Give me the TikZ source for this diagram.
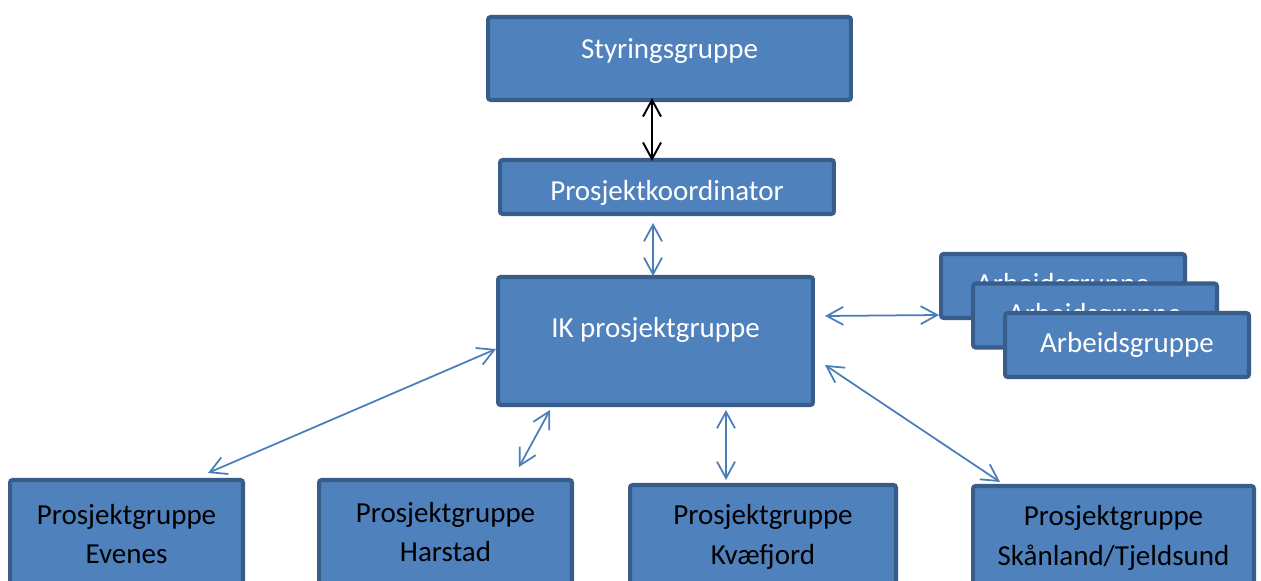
\documentclass[tikz,border=0pt]{standalone}
\usepackage{fontspec}
\setmainfont{Carlito}
\usetikzlibrary{arrows.meta}

\definecolor{boxfill}{HTML}{4F81BD}
\definecolor{boxline}{HTML}{385D8A}
\definecolor{linkblue}{HTML}{4A7EBB}

\begin{document}
\begin{tikzpicture}[
    x=0.02cm, y=-0.02cm,
    box/.style={draw=boxline, line width=2.3pt, rounded corners=1.5pt, fill=boxfill, inner sep=0pt, font=\fontsize{16.5}{22.5}\selectfont, align=center},
    topbox/.style={box, text=white},
    subbox/.style={box, text=black, minimum width=4.88cm, minimum height=1.28cm},
    txt/.style={text=white, font=\fontsize{16.5}{22.5}\selectfont, inner sep=0pt},
    arr/.style={{Straight Barb[length=3.3mm,width=3.6mm]}-{Straight Barb[length=3.3mm,width=3.6mm]}, line width=1pt, draw=linkblue},
    blk/.style={arr, draw=black, line width=1.1pt}
  ]
    \useasboundingbox (0,0) rectangle (1261,581);
    \clip (0,0) rectangle (1261,581);

    % top of the chart
    \node[topbox, minimum width=7.26cm, minimum height=1.66cm,
      label={[txt, yshift=0.15cm]center:Styringsgruppe}] (styr) at (669.5,58.5) {};
    \node[topbox, minimum width=6.68cm, minimum height=1.08cm,
      label={[txt, yshift=-0.12cm]center:Prosjektkoordinator}] (koord) at (667,187) {};
    \node[topbox, minimum width=6.3cm, minimum height=2.56cm,
      label={[txt, yshift=0.23cm]center:IK prosjektgruppe}] (ik) at (655.5,341) {};

    % stack of working groups
    \node[subbox, text=white] (arb1) at (1063,286) {Arbeidsgruppe};
    \node[subbox, text=white] (arb2) at (1095,315.5) {Arbeidsgruppe};
    \node[subbox, text=white] (arb3) at (1127,345) {Arbeidsgruppe};

    % local project groups
    \node[box, minimum width=4.66cm, minimum height=2.16cm] (evenes) at (126.5,534) {Prosjektgruppe\\Evenes};
    \node[box, minimum width=5.06cm, minimum height=2.08cm] (harstad) at (445.5,532) {Prosjektgruppe\\Harstad};
    \node[box, minimum width=5.32cm, minimum height=2.08cm] (kvaefjord) at (763,537) {Prosjektgruppe\\Kvæfjord};
    \node[box, minimum width=5.62cm, minimum height=2.08cm] (skanland) at (1113.5,538) {Prosjektgruppe\\Skånland/Tjeldsund};

    \draw[blk] ([xshift=-0.35cm, yshift=0.08cm]styr.south) -- ([xshift=-0.3cm, yshift=-0.06cm]koord.north);
    \draw[arr] ([xshift=-0.28cm, yshift=-0.14cm]koord.south) -- ([xshift=-0.05cm, yshift=-0.02cm]ik.north);
    \draw[arr] ([xshift=0.2cm, yshift=0.5cm]ik.east) -- ([yshift=-0.58cm]arb1.west);
    \draw[arr] ([yshift=-0.16cm]ik.west) -- ([xshift=1.63cm, yshift=0.1cm]evenes.north);
    \draw[arr] ([xshift=-2.11cm, yshift=-0.06cm]ik.south) -- ([xshift=1.47cm, yshift=0.22cm]harstad.north);
    \draw[arr] ([xshift=1.41cm, yshift=-0.06cm]ik.south) -- ([xshift=-0.74cm, yshift=0.06cm]kvaefjord.north);
    \draw[arr] ([xshift=0.2cm, yshift=-0.48cm]ik.east) -- ([xshift=-2.27cm, yshift=0.04cm]skanland.north);
  \end{tikzpicture}
\end{document}
